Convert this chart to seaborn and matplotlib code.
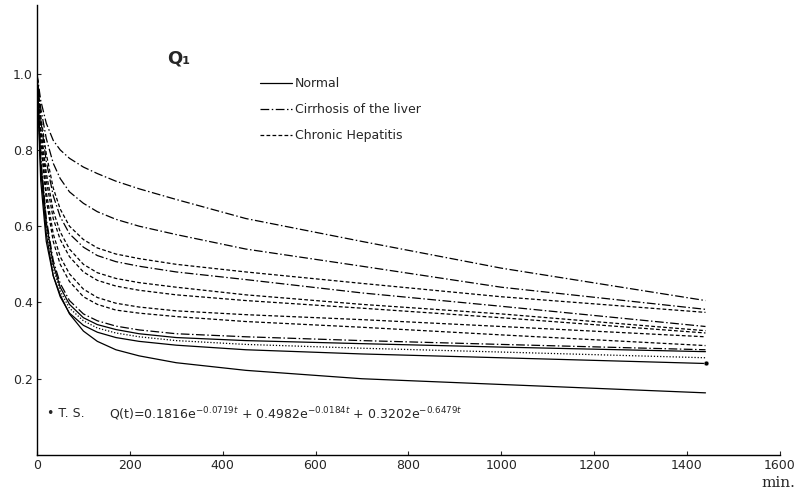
import numpy as np
import pandas as pd
import matplotlib
matplotlib.use("Agg")
import matplotlib.pyplot as plt
from matplotlib.lines import Line2D
import seaborn as sns

t_min = [0, 8, 20, 35, 50, 70, 100, 130, 170, 220, 300, 450, 700, 1000, 1440]

# Q1 fraction remaining, one list per patient curve
cirr_a = [1.0, 0.93, 0.87, 0.825, 0.80, 0.778, 0.755, 0.738, 0.718, 0.698, 0.67, 0.62, 0.56, 0.49, 0.405]
cirr_b = [1.0, 0.91, 0.83, 0.765, 0.725, 0.69, 0.66, 0.638, 0.618, 0.60, 0.578, 0.54, 0.495, 0.44, 0.382]
hep_c = [1.0, 0.89, 0.79, 0.70, 0.645, 0.60, 0.565, 0.543, 0.527, 0.515, 0.50, 0.48, 0.45, 0.415, 0.374]
cirr_d = [1.0, 0.88, 0.77, 0.68, 0.625, 0.58, 0.545, 0.523, 0.507, 0.495, 0.48, 0.46, 0.425, 0.39, 0.337]
hep_e = [1.0, 0.86, 0.74, 0.64, 0.585, 0.54, 0.50, 0.478, 0.463, 0.452, 0.44, 0.42, 0.395, 0.37, 0.326]
hep_f = [1.0, 0.85, 0.72, 0.62, 0.565, 0.52, 0.48, 0.458, 0.443, 0.432, 0.42, 0.405, 0.385, 0.36, 0.32]
hep_g = [1.0, 0.83, 0.69, 0.58, 0.52, 0.475, 0.435, 0.413, 0.398, 0.388, 0.378, 0.368, 0.355, 0.337, 0.31]
hep_h = [1.0, 0.82, 0.67, 0.56, 0.50, 0.455, 0.415, 0.395, 0.38, 0.372, 0.363, 0.35, 0.335, 0.315, 0.287]
cirr_i = [1.0, 0.78, 0.62, 0.51, 0.45, 0.405, 0.37, 0.352, 0.338, 0.328, 0.318, 0.31, 0.30, 0.29, 0.276]
norm_j = [1.0, 0.77, 0.61, 0.50, 0.44, 0.395, 0.36, 0.342, 0.329, 0.318, 0.308, 0.30, 0.292, 0.283, 0.271]
hep_k = [1.0, 0.77, 0.60, 0.49, 0.43, 0.385, 0.352, 0.333, 0.32, 0.31, 0.30, 0.29, 0.28, 0.27, 0.255]
norm_ts = [1.0, 0.75, 0.58, 0.47, 0.415, 0.372, 0.34, 0.322, 0.308, 0.298, 0.288, 0.276, 0.265, 0.255, 0.24]
norm_m = [1.0, 0.72, 0.56, 0.47, 0.42, 0.37, 0.325, 0.298, 0.276, 0.26, 0.242, 0.222, 0.20, 0.185, 0.163]

curves = {
    "A": cirr_a, "B": cirr_b, "C": hep_c, "D": cirr_d, "E": hep_e,
    "F": hep_f, "G": hep_g, "H": hep_h, "I": cirr_i, "J": norm_j,
    "K": hep_k, "TS": norm_ts, "M": norm_m,
}
group = {"A": "cirr", "B": "cirr", "C": "hep", "D": "cirr", "E": "hep",
         "F": "hep", "G": "hep", "H": "hep", "I": "cirr", "J": "norm",
         "K": "dot", "TS": "norm", "M": "norm"}

x_ticks = [0, 200, 400, 600, 800, 1000, 1200, 1400, 1600]
y_ticks = [0.2, 0.4, 0.6, 0.8, 1.0]
y_labels = ["0.2", "0.4", "0.6", "0.8", "1.0"]

dash_style = {"norm": "", "cirr": (7, 2, 1.2, 2), "hep": (3, 1.8), "dot": (1, 1.5)}

rows = []
for name, vals in curves.items():
    for t, q in zip(t_min, vals):
        rows.append({"t": t, "Q": q, "curve": name})
df = pd.DataFrame(rows)

sns.set_style("ticks")
plt.rcParams["font.family"] = ["DejaVu Sans"]

fig = plt.figure(figsize=(7.97, 4.98), dpi=100)
ax = fig.add_axes([0.0464, 0.0863, 0.932, 0.9037])

sns.lineplot(data=df, x="t", y="Q", hue="curve", style="curve",
             palette={c: "black" for c in curves},
             dashes={c: dash_style[group[c]] for c in curves},
             estimator=None, sort=False, legend=False, lw=0.9, ax=ax)

# T.S. end point marker
sns.scatterplot(x=[t_min[-1]], y=[norm_ts[-1]], color="black", s=12, ax=ax, zorder=5)

ax.set_xlim(0, 1600)
ax.set_ylim(0, 1.18)
ax.set_xticks(x_ticks)
ax.set_yticks(y_ticks)
ax.set_yticklabels(y_labels)
ax.tick_params(axis="both", direction="in", length=3, width=0.8, labelsize=9, pad=3)
ax.set_xlabel("")
ax.set_ylabel("")
sns.despine(ax=ax)
for s in ["left", "bottom"]:
    ax.spines[s].set_linewidth(1.0)
    ax.spines[s].set_color("black")

handles = [
    Line2D([], [], color="black", lw=0.9),
    Line2D([], [], color="black", lw=0.9, dashes=dash_style["cirr"]),
    Line2D([], [], color="black", lw=0.9, dashes=dash_style["hep"]),
]
ax.legend(handles, ["Normal", "Cirrhosis of the liver", "Chronic Hepatitis"],
          loc="upper left", bbox_to_anchor=(0.285, 0.865), frameon=False,
          fontsize=9, handlelength=2.6, handletextpad=0.2, labelspacing=1.05)

ax.text(305, 1.04, "Q₁", fontsize=13, fontweight="bold", ha="center", va="center")
ax.text(22, 0.108, "• T. S.", fontsize=9, va="center")
ax.text(155, 0.108,
        r"Q(t)=0.1816e$^{-0.0719t}$ + 0.4982e$^{-0.0184t}$ + 0.3202e$^{-0.6479t}$",
        fontsize=9, va="center")

fig.text(0.955, 0.022, "min.", fontsize=11, family="DejaVu Serif", ha="left")

fig.savefig("out.png", dpi=100)
